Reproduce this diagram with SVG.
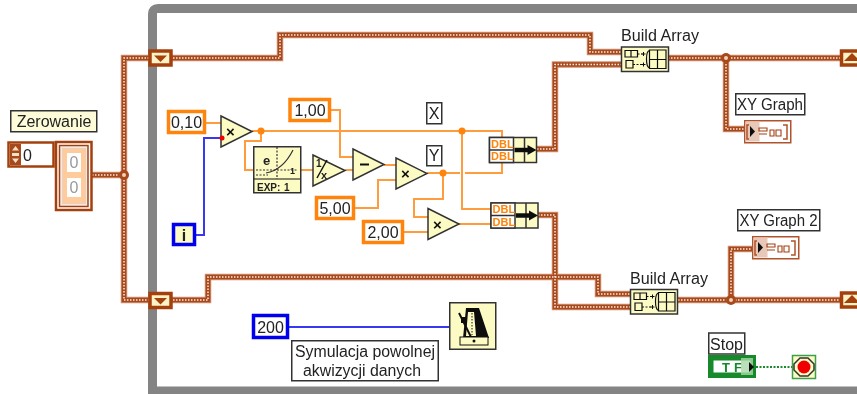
<svg xmlns="http://www.w3.org/2000/svg" width="857" height="394" viewBox="0 0 857 394">
<style>
text{font-family:"Liberation Sans",Arial,sans-serif;fill:#222}
.lbl{font-size:16px;text-anchor:middle}
.box{fill:#fff;stroke:#333;stroke-width:1.5}
.cs{fill:#fff;stroke:#ff8408;stroke-width:3.5}
.ci{fill:#fff;stroke:#0000ee;stroke-width:3.5}
.node{fill:#fdfbc4;stroke:#333;stroke-width:1.5}
.o{fill:none;stroke:#ff9c3c;stroke-width:2}
.b{fill:none;stroke:#3838f0;stroke-width:2}
.w1{fill:none;stroke:#d08f70;stroke-width:6.5}
.w2{fill:none;stroke:#a84a1c;stroke-width:4.6}
.w3{fill:none;stroke:#fbeadf;stroke-width:1.5;stroke-dasharray:1.5 1.5}
.sr{fill:#fdf3c4;stroke:#a4400f;stroke-width:3.5}
.arrow{fill:#a4400f}
.dbl{font-size:11px;font-weight:bold;fill:#ff8408}
.i{stroke:#111;stroke-width:1.2;fill:none}
</style>
<defs>
<filter id="soft" x="0" y="0" width="100%" height="100%"><feGaussianBlur stdDeviation="0.35"/></filter>
<g id="wires">
<path d="M92 175H124M161 58H124V300H161"/>
<path d="M161 58H280V35H590V52H621"/>
<path d="M537 149H555V64.500H621"/>
<path d="M668 58H844M726 58V129H745"/>
<path d="M161 300H208V277H598V294H630"/>
<path d="M538 215H555V307H630"/>
<path d="M678 300H844M731 300V249H752"/>
</g>
<g id="tri"><path d="M0 0L31 15.500L0 31Z" class="node"/></g>
<g id="regL"><rect x="1.500" y="1.500" width="21" height="14" class="sr"/><path d="M5.500 6H18.500L12 12.500Z" class="arrow"/></g>
<g id="bundle">
<rect x="0" y="0" width="47" height="25" class="node"/>
<rect x="0" y="0" width="24" height="25" fill="#fff" stroke="#333" stroke-width="1.500"/>
<path d="M0 12.500H24M35 0V25" stroke="#333" stroke-width="1.500" fill="none"/>
<text x="1.500" y="10" class="dbl">DBL</text><text x="1.500" y="22.500" class="dbl">DBL</text>
<path d="M25 12.500H40" stroke="#111" stroke-width="4.500"/><path d="M38 7.500L47 12.500L38 17.500Z" fill="#111"/>
</g>
<g id="build">
<rect x="0" y="0" width="47" height="24.500" class="node"/>
<path d="M3.500 3.500H16V10H3.500ZM9.500 3.500V10M4.500 13.500H11.500V21H4.500ZM28 3.500Q25 4 25 12Q25 20 28 21" class="i"/>
<path d="M28 3H44.500V21.500H28ZM28 12.500H44.500M36 3V21.500" class="i" stroke-width="1.500"/>
<path d="M16 7H21M11.500 17.500H21" stroke="#111" stroke-dasharray="2 1.500" fill="none"/>
<path d="M20 7H24M22 5V9M20 17.500H24M22 15.500V19.500" stroke="#111" fill="none"/>
</g>
<g id="xy">
<rect x="0.750" y="0.750" width="46" height="22" fill="#fff" stroke="#b0532a" stroke-width="1.500"/>
<rect x="1.500" y="1.500" width="14" height="20" fill="#e8c8b8"/>
<path d="M6 6L11 11.500L6 17Z" fill="#111"/>
<path d="M5 5H3V19H5M39 5H43V19H39" fill="none" stroke="#b0532a" stroke-width="1.500"/>
<path d="M15 8H23V11H15ZM15 14H23M26 10H30V16H26ZM32 10H37V16H32Z" fill="none" stroke="#a4400f" stroke-width="1.100"/>
</g>
</defs>
<g filter="url(#soft)">
<rect x="0" y="0" width="857" height="394" fill="#fff"/>
<path id="loop" d="M152.500 394V14Q152.500 8.500 158 8.500H857M152.500 391H857" fill="none" stroke="#848484" stroke-width="9"/>

<g id="connectors">
<use href="#wires" class="w1"/>
<use href="#wires" class="w2"/>
<use href="#wires" class="w3"/>
<path class="o" d="M206 123H221M252 131H462M261 131V141H245V170H253M301 170H313M345 170H353M331 110H340V157H353M384 165H396M355 208H378V180H396"/>
<path class="o" d="M427 173H460M465 173H502V162M462 131H502V137M462 131V209H491M443 173V199H414V217H428M404 232H428M459 224H491"/>
<path class="b" d="M196 235H204V138H221M289 327H449"/>
<path d="M756 367H792" fill="none" stroke="#1a8a2a" stroke-width="2" stroke-dasharray="2 1.500"/>
<circle cx="124" cy="175" r="5" fill="#a84a1c"/><circle cx="726" cy="58" r="5" fill="#a84a1c"/><circle cx="731" cy="300" r="5" fill="#a84a1c"/>
<circle cx="124" cy="175" r="2" fill="#f0d0b8"/><circle cx="726" cy="58" r="2" fill="#f0d0b8"/><circle cx="731" cy="300" r="2" fill="#f0d0b8"/>
<circle cx="261" cy="131" r="3.500" fill="#ff8408"/><circle cx="462" cy="131" r="3.500" fill="#ff8408"/><circle cx="443" cy="173" r="3.500" fill="#ff8408"/>
</g>

<g id="zerowanie-label"><rect x="10.750" y="110.750" width="86" height="21" fill="#fdfbd8" stroke="#333" stroke-width="1.500"/><text x="54" y="127" class="lbl">Zerowanie</text></g>
<g id="array">
<rect x="8.500" y="142.500" width="45" height="24" fill="#fff" stroke="#a4400f" stroke-width="2.500"/>
<rect x="10" y="144" width="11" height="21" fill="#a84a1c"/>
<path d="M15.500 146L19 150.500H12ZM15.500 163L19 158.500H12ZM12 153H19V156H12Z" fill="#f5e0c8"/>
<text x="23" y="161" font-size="16">0</text>
<rect x="56" y="142" width="35.500" height="68" fill="#fff" stroke="#a4400f" stroke-width="2.500"/>
<rect x="59.500" y="145.500" width="28.500" height="61" fill="#f4e8e0" stroke="#a4400f" stroke-width="1.500"/>
<rect x="62.500" y="148.500" width="23" height="55" fill="#ffcb9a" stroke="#e8d0c0"/>
<rect x="67" y="153" width="14" height="19" fill="#fff"/><rect x="67" y="178" width="14" height="19" fill="#fff"/>
<text x="74" y="168" font-size="16" text-anchor="middle" style="fill:#999">0</text><text x="74" y="193" font-size="16" text-anchor="middle" style="fill:#999">0</text>
</g>

<g id="reg-left-top"><use href="#regL" x="148.500" y="49.500"/></g>
<g id="reg-left-bottom"><use href="#regL" x="148.500" y="292"/></g>
<g id="reg-right-top"><rect x="841.500" y="51" width="21" height="14" class="sr"/><path d="M844 61H860L852 53Z" class="arrow"/></g>
<g id="reg-right-bottom"><rect x="841.500" y="293" width="21" height="14" class="sr"/><path d="M844 303H860L852 295Z" class="arrow"/></g>

<g id="c010"><rect x="168.500" y="111.500" width="36" height="21" class="cs"/><text x="186.500" y="128" class="lbl">0,10</text></g>
<g id="iter"><rect x="173.500" y="224.500" width="21" height="20" class="ci" style="fill:#fdfbc4"/><text x="184" y="241" class="lbl" font-weight="bold">i</text></g>
<g id="mul1"><use href="#tri" x="221" y="116"/><text x="226" y="137" font-size="15" font-weight="bold" style="fill:#111">×</text><circle cx="222" cy="138" r="2.500" fill="#f00000"/></g>
<g id="exp"><rect x="253.750" y="146.750" width="47" height="46" class="node"/><path d="M254 179H300" class="i"/><path d="M277 147V179M256 175H268M256 170H297" fill="none" stroke="#333" stroke-width="1.200" stroke-dasharray="2 1.500"/><path d="M266 173Q283 170 293 150" fill="none" stroke="#333" stroke-width="1.200"/><text x="263" y="165" font-size="13" font-weight="bold">e</text><text x="290" y="174" font-size="9" font-weight="bold">1</text><text x="257" y="191" font-size="10" font-weight="bold">EXP:</text><text x="284" y="191" font-size="10" font-weight="bold">1</text></g>
<g id="inv"><path d="M313 155L345 170.500L313 186Z" class="node"/><text x="316" y="167" font-size="10" font-weight="bold">1</text><path d="M317 178L327 160" stroke="#111" stroke-width="1.500"/><text x="321" y="179" font-size="11" font-weight="bold">x</text></g>
<g id="c100"><rect x="290" y="99.500" width="39.500" height="21" class="cs"/><text x="310" y="116" class="lbl">1,00</text></g>
<g id="minus"><path d="M353 149L384 164.500L353 180Z" class="node"/><path d="M360 164.500H369" stroke="#111" stroke-width="2"/></g>
<g id="mul2"><use href="#tri" x="396" y="158"/><text x="401" y="179" font-size="15" font-weight="bold" style="fill:#111">×</text></g>
<g id="c500"><rect x="316.500" y="197.500" width="37" height="21" class="cs"/><text x="335" y="214" class="lbl">5,00</text></g>
<g id="c200"><rect x="363.500" y="221.500" width="39" height="21" class="cs"/><text x="383" y="238" class="lbl">2,00</text></g>
<g id="mul3"><use href="#tri" x="428" y="208.500"/><text x="433" y="230" font-size="15" font-weight="bold" style="fill:#111">×</text></g>
<g id="x-label"><rect x="426.750" y="102.750" width="15" height="21" class="box"/><text x="434" y="119" class="lbl">X</text></g>
<g id="y-label"><rect x="426.750" y="145.750" width="15" height="20" class="box"/><text x="434" y="161" class="lbl">Y</text></g>
<g id="bundle1"><use href="#bundle" x="489.500" y="137.500"/></g>
<g id="bundle2"><use href="#bundle" x="491" y="203"/></g>
<g id="build1"><text x="660" y="41" class="lbl" textLength="78" lengthAdjust="spacingAndGlyphs">Build Array</text><use href="#build" x="621.500" y="47"/></g>
<g id="build2"><text x="669" y="284" class="lbl" textLength="78" lengthAdjust="spacingAndGlyphs">Build Array</text><use href="#build" x="630.500" y="289.500"/></g>
<g id="xygraph"><rect x="735.750" y="93.750" width="69" height="21" class="box"/><text x="770" y="110" class="lbl" textLength="66" lengthAdjust="spacingAndGlyphs">XY Graph</text><use href="#xy" x="744" y="120"/></g>
<g id="xygraph2"><rect x="737.750" y="209.750" width="82" height="21" class="box"/><text x="778.500" y="226" class="lbl" textLength="78" lengthAdjust="spacingAndGlyphs">XY Graph 2</text><use href="#xy" x="752" y="236"/></g>
<g id="c200ms"><rect x="253.500" y="315.500" width="34" height="22" class="ci"/><text x="270.500" y="333" class="lbl">200</text></g>
<g id="wait"><rect x="449.750" y="302.750" width="46" height="46.500" class="node"/><path d="M466 308H479L489 338H463Z" fill="#111"/><path d="M468 312H474L476 336H466Z" fill="#fdfbc4"/><path d="M459 313L471 337" stroke="#111" stroke-width="2"/><path d="M472 313V335" stroke="#111" stroke-dasharray="1.500 1.500"/><rect x="460" y="337" width="28" height="8" fill="#fdfbc4" stroke="#111"/><circle cx="474" cy="341" r="1.500" fill="#111"/><rect x="461" y="317" width="6" height="6" fill="#111"/></g>
<g id="comment"><rect x="291.750" y="340.750" width="146.500" height="40" class="box"/><text x="365" y="357" class="lbl" textLength="140" lengthAdjust="spacingAndGlyphs">Symulacja powolnej</text><text x="362" y="376" class="lbl" textLength="118" lengthAdjust="spacingAndGlyphs">akwizycji danych</text></g>
<g id="stop-label"><rect x="708.750" y="333" width="36" height="21" class="box"/><text x="726.500" y="350" class="lbl">Stop</text></g>
<g id="stop-terminal"><rect x="709.500" y="356.500" width="45" height="20" fill="#1a8a2a" stroke="#128a2a" stroke-width="3"/><rect x="713" y="360" width="38" height="13" fill="#fff" stroke="#128a2a" stroke-width="1"/><text x="722" y="371.500" font-size="13" font-weight="bold" style="fill:#128a2a" textLength="20">TF</text><rect x="741" y="358" width="12" height="17" fill="#a8d8a8" fill-opacity="0.8"/><path d="M749 362L754 367L749 372Z" fill="#111"/></g>
<g id="stop-node"><rect x="792.500" y="355.500" width="23" height="23" fill="#fdfbc4" stroke="#3aa04a" stroke-width="1.500"/><path d="M800 358H808L814 364V370L808 376H800L794 370V364Z" fill="none" stroke="#333" stroke-width="1.500"/><circle cx="804" cy="367" r="6.500" fill="#f00000"/></g>
</g>
</svg>
